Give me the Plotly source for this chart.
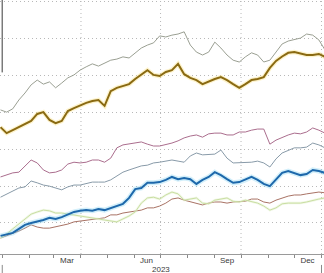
import pandas as pd
import plotly.graph_objects as go

# weekly observation dates
dates = pd.date_range("2022-12-30", periods=54, freq="7D")

gray_top = [40.7, 40.1, 41.0, 43.4, 45.3, 47.5, 48.8, 47.7, 48.3, 46.7, 48.0, 49.4, 50.2, 51.5,
            52.4, 53.2, 52.6, 53.4, 54.2, 54.5, 55.1, 54.8, 56.2, 57.5, 58.3, 58.9, 60.8, 60.5,
            61.0, 61.3, 61.9, 58.3, 56.4, 55.6, 56.4, 59.1, 57.5, 55.6, 54.2, 53.7, 55.1, 56.2,
            55.6, 53.7, 54.2, 56.4, 58.6, 59.4, 59.7, 60.2, 61.3, 61.0, 59.7, 57.0]
gold = [36.0, 34.4, 35.2, 36.0, 36.9, 37.7, 39.6, 40.1, 38.0, 37.1, 37.7, 40.4, 41.2, 42.0,
        42.6, 43.1, 43.4, 41.8, 45.8, 46.7, 47.2, 47.7, 49.1, 50.2, 51.5, 50.2, 49.9, 51.0,
        51.5, 53.2, 50.4, 49.4, 48.8, 47.7, 48.5, 49.1, 49.6, 48.8, 47.7, 46.7, 47.7, 48.8,
        49.1, 49.6, 52.1, 54.0, 55.2, 56.2, 56.4, 55.9, 55.6, 55.6, 55.9, 55.1]
pink = [22.5, 23.0, 23.6, 23.8, 25.5, 27.1, 26.3, 24.4, 23.6, 23.8, 24.4, 26.0, 26.5, 26.3,
        26.5, 27.1, 27.1, 26.5, 27.6, 30.4, 31.2, 31.4, 31.7, 32.0, 31.4, 30.9, 30.9, 31.2,
        31.7, 32.3, 33.1, 33.6, 33.9, 33.3, 34.2, 34.4, 34.4, 33.9, 33.9, 34.7, 34.7, 35.2,
        35.5, 35.5, 31.4, 32.5, 33.3, 33.9, 34.4, 34.2, 34.7, 35.8, 35.2, 34.4]
slate = [17.0, 17.9, 18.7, 19.5, 19.8, 21.4, 20.9, 20.3, 20.0, 19.5, 19.0, 19.8, 20.3, 20.3,
         20.6, 21.1, 21.1, 21.1, 21.7, 22.8, 23.8, 24.4, 24.9, 25.5, 25.7, 26.3, 26.5, 26.8,
         27.1, 26.8, 26.5, 28.2, 29.0, 28.5, 28.5, 28.7, 29.8, 27.6, 26.3, 26.3, 26.3, 26.5,
         26.8, 26.3, 25.2, 27.4, 29.0, 29.8, 30.4, 30.4, 30.6, 31.7, 31.2, 30.4]
blue = [6.5, 7.0, 7.3, 8.4, 9.5, 10.0, 10.3, 10.8, 11.4, 11.1, 11.6, 12.4, 13.0, 13.3,
        13.5, 13.3, 13.8, 13.5, 14.1, 14.6, 15.2, 16.8, 19.2, 19.5, 20.9, 20.9, 21.1, 21.7,
        22.5, 21.9, 22.2, 21.9, 20.6, 21.7, 22.5, 23.8, 23.0, 21.9, 20.9, 21.1, 21.7, 22.5,
        21.7, 20.6, 20.0, 21.7, 23.6, 24.1, 23.6, 23.0, 23.3, 24.4, 24.1, 23.6]
green = [5.9, 7.0, 8.4, 9.7, 11.1, 12.4, 13.0, 13.5, 13.3, 12.7, 12.7, 12.4, 12.2, 11.9,
         11.6, 11.4, 11.1, 10.8, 10.5, 10.3, 11.1, 11.9, 13.0, 15.4, 16.8, 17.0, 16.5, 17.6,
         18.4, 17.9, 16.2, 16.5, 16.8, 15.4, 15.2, 16.2, 16.5, 16.8, 15.9, 15.7, 16.2, 15.9,
         15.4, 14.6, 13.5, 14.1, 15.2, 15.4, 15.4, 15.4, 15.7, 16.2, 16.5, 16.8]
brown = [5.9, 6.5, 7.3, 7.8, 8.6, 9.5, 8.9, 8.6, 8.6, 8.9, 9.2, 9.7, 10.3, 10.5,
         10.8, 10.8, 11.1, 11.4, 12.2, 12.2, 12.7, 13.0, 13.3, 13.5, 14.1, 14.1, 14.6, 15.4,
         16.5, 16.8, 16.2, 15.7, 15.4, 14.9, 15.4, 15.7, 15.7, 15.4, 15.7, 15.7, 15.9, 16.5,
         16.5, 15.7, 15.4, 16.2, 16.8, 17.3, 17.6, 17.6, 17.9, 18.2, 18.4, 18.2]

month_label_dates = ["2023-03-16", "2023-06-15", "2023-09-15", "2023-12-16"]
month_labels = ["Mar", "Jun", "Sep", "Dec"]
month_starts = pd.date_range("2023-01-01", "2024-01-01", freq="MS")
quarter_grid = ["2023-04-01", "2023-07-01", "2023-10-01", "2024-01-01"]
year_marks = ["2023-01-01", "2024-01-01"]
year_label = "2023"
year_label_date = "2023-07-02"
y_grid = [10, 20, 30, 40, 50, 60, 70]

GRID_DASH = "1px,3px"

fig = go.Figure()


def add_line(y, color, width, glow=None, glow_width=0):
    if glow:
        fig.add_trace(go.Scatter(x=dates, y=y, mode="lines",
                                 line=dict(color=glow, width=glow_width),
                                 hoverinfo="skip", showlegend=False))
    fig.add_trace(go.Scatter(x=dates, y=y, mode="lines",
                             line=dict(color=color, width=width),
                             hoverinfo="skip", showlegend=False))


add_line(gray_top, "#8f9486", 0.9)
add_line(gold, "#8a6a12", 2.0, "rgba(250,220,110,0.35)", 4.5)
add_line(pink, "#a05c80", 0.9)
add_line(slate, "#7a8e9e", 0.9)
add_line(brown, "#9e6252", 0.9)
add_line(green, "#c9dea2", 1.0, "rgba(225,240,200,0.45)", 2.5)
add_line(blue, "#1d68ab", 2.0, "rgba(130,210,240,0.35)", 5)

shapes = []
for q in quarter_grid:
    shapes.append(dict(type="line", xref="x", yref="paper", x0=q, x1=q, y0=0, y1=1,
                       line=dict(color="#b8b8b8", width=1, dash=GRID_DASH), layer="below"))
for ym in year_marks:
    shapes.append(dict(type="line", xref="x", yref="paper", x0=ym, x1=ym, y0=-0.043, y1=-0.075,
                       line=dict(color="#8a8a8a", width=1)))
shapes.append(dict(type="line", xref="paper", yref="paper", x0=0.007, x1=0.007, y0=0.715, y1=1,
                   line=dict(color="#7a7a7a", width=1.5)))

fig.update_layout(
    width=324, height=273,
    margin=dict(l=0, r=0, t=0, b=19),
    paper_bgcolor="white", plot_bgcolor="white",
    font=dict(family="Liberation Sans, Arial, sans-serif", size=8, color="#3a3a3a"),
    shapes=shapes,
    annotations=[dict(text=year_label, x=year_label_date, xref="x", y=-0.06, yref="paper",
                      showarrow=False, yanchor="middle", font=dict(size=8, color="#3a3a3a"))],
    xaxis=dict(
        range=["2022-12-29 10:00", "2024-01-03 21:00"],
        tickmode="array", tickvals=month_label_dates, ticktext=month_labels,
        ticks="", showgrid=False, zeroline=False, ticklabelstandoff=-2,
        showline=True, linecolor="#9a9a9a", linewidth=1,
        minor=dict(tickmode="array", tickvals=month_starts, ticks="outside", ticklen=3,
                   tickcolor="#8a8a8a", showgrid=False),
    ),
    yaxis=dict(
        range=[1.58, 70.54],
        tickmode="array", tickvals=y_grid, showticklabels=False, ticks="",
        showgrid=True, gridcolor="#b8b8b8", griddash=GRID_DASH, gridwidth=1,
        zeroline=False, showline=False,
    ),
)

fig.write_html("out.html")
